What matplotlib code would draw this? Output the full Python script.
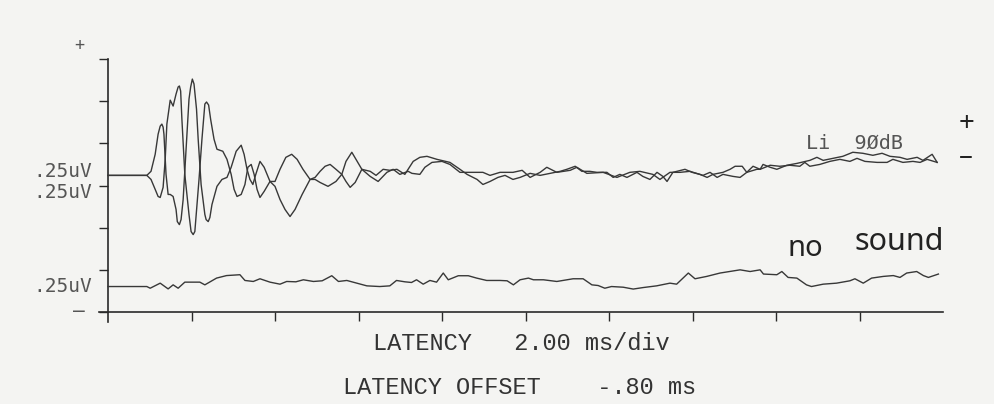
import numpy as np
import matplotlib
matplotlib.use('Agg')
import matplotlib.pyplot as plt

# latency (ms) and amplitude (uV)
# upper pair of traces (two stimulus polarities), drawn around the same baseline
t_pos = [-0.80, 0.13, 0.23, 0.33, 0.40, 0.45, 0.49, 0.52, 0.54, 0.59, 0.64, 0.69, 0.76, 0.83, 0.86,
         0.91, 0.95, 1.00, 1.07, 1.14, 1.18, 1.22, 1.26, 1.32, 1.36, 1.43, 1.52, 1.55, 1.60, 1.64,
         1.69, 1.81, 1.93, 2.05, 2.15, 2.27, 2.39, 2.46,
         2.53, 2.60, 2.67, 2.74, 2.84, 2.94, 3.08, 3.20, 3.32, 3.44, 3.56, 3.68, 3.85, 4.04, 4.16,
         4.28, 4.40, 4.52, 4.66, 4.80, 4.90, 5.00, 5.12, 5.28, 5.48, 5.62, 5.79, 5.95, 6.12, 6.31,
         6.51, 6.67, 6.84, 7.08, 7.39, 7.63, 7.80, 8.04, 8.18, 8.35, 8.54, 8.71, 8.90, 9.07, 9.31,
         9.55, 10.03, 10.19, 10.39, 10.55, 10.74, 10.91, 11.15, 11.30, 11.46, 11.63, 11.87, 12.01,
         12.18, 12.35, 12.49, 12.59, 12.73, 13.02, 13.19, 13.38, 13.55, 13.69, 13.93, 14.10, 14.22,
         14.39, 14.50, 14.65, 14.82, 14.89, 15.06, 15.22, 15.46, 15.70, 16.01, 16.18, 16.33, 16.56,
         16.80, 17.04, 17.28, 17.52, 17.74, 17.93, 18.17, 18.34, 18.58, 18.72, 18.94, 19.06]
amp_pos = [0, 0, 0.024, 0.125, 0.244, 0.292, 0.304, 0.286, 0.244, 0.006, -0.113, -0.113, -0.125,
           -0.202, -0.274, -0.292, -0.262, -0.143, 0.155, 0.452, 0.524, 0.571, 0.542, 0.393,
           0.214, -0.054, -0.232, -0.262, -0.274, -0.250, -0.173, -0.065,
           -0.024, -0.012, 0.048, 0.143, 0.179, 0.125, 0.036, -0.024, -0.054, 0.006, 0.083, 0.048,
           -0.036, -0.065, -0.143, -0.202, -0.244, -0.202, -0.113, -0.024, -0.012, 0.024, 0.054,
           0.065, 0.036, 0.006, -0.036, -0.071, -0.042, 0.036, 0.024, 0, 0.036, 0.030, 0.036, 0.006,
           0.083, 0.107, 0.113, 0.095, 0.077, 0.036, 0.006, -0.024, -0.054, -0.036, -0.012, 0,
           -0.024, -0.012, 0.012, 0, 0.024, 0.036, 0.054, 0.024, 0.024, 0.018, 0.018, -0.012, 0.006,
           -0.012, 0.018, -0.006, -0.024, 0.018, -0.006, -0.036, 0.018, 0.036, 0.018, 0.006, -0.012,
           0.006, 0.018, 0.036, 0.054, 0.054, 0.018, 0.054, 0.036, 0.065, 0.048, 0.036, 0.060,
           0.071, 0.089, 0.107, 0.089, 0.101, 0.113, 0.137, 0.131, 0.119, 0.131, 0.113, 0.107,
           0.095, 0.107, 0.089, 0.125, 0.077]

t_neg = [-0.80, 0.13, 0.23, 0.33, 0.40, 0.45, 0.52, 0.57, 0.61, 0.69, 0.76, 0.83, 0.88, 0.91, 0.94,
         0.97, 1.04, 1.14, 1.19, 1.24, 1.28, 1.38, 1.45, 1.52, 1.56, 1.61, 1.66, 1.74, 1.81, 1.95,
         2.05, 2.15, 2.22, 2.29, 2.39,
         2.48, 2.55, 2.63, 2.70, 2.77, 2.84, 2.94, 3.08, 3.20, 3.32, 3.46, 3.60, 3.73, 3.87, 4.04,
         4.16, 4.28, 4.47, 4.66, 4.80, 4.90, 5.04, 5.14, 5.28, 5.48, 5.67, 5.88, 6.03, 6.19, 6.39,
         6.48, 6.67, 6.79, 6.96, 7.20, 7.39, 7.63, 7.80, 8.18, 8.35, 8.59, 8.90, 9.12, 9.31, 9.55,
         9.71, 9.95, 10.27, 10.43, 10.67, 11.06, 11.39, 11.70, 11.94, 12.25, 12.42, 12.66, 12.90,
         13.14, 13.45, 13.62, 13.79, 13.93, 14.17, 14.34, 14.50, 14.74, 14.82, 15.06, 15.29, 15.53,
         15.77, 15.89, 16.01, 16.25, 16.49, 16.73, 16.97, 17.14, 17.33, 17.62, 17.86, 18.00, 18.24,
         18.48, 18.65, 18.82, 19.06]
amp_neg = [0, 0, -0.024, -0.083, -0.125, -0.131, -0.071, 0.095, 0.304, 0.446, 0.411, 0.482, 0.524,
           0.530, 0.500, 0.333, 0.006, -0.232, -0.333, -0.351, -0.333, -0.024, 0.214, 0.423, 0.435,
           0.417, 0.330, 0.214, 0.155, 0.143,
           0.095, 0.006, -0.083, -0.125, -0.113, -0.054, 0.048, 0.065, 0.006, -0.083, -0.131,
           -0.095, -0.036, -0.036, 0.036, 0.107, 0.125, 0.095, 0.036, -0.024, -0.024, -0.042,
           -0.065, -0.036, 0.006, 0.083, 0.137, 0.095, 0.036, -0.006, -0.036, 0.018, 0.036, 0.006,
           0.024, 0.012, 0.006, 0.048, 0.077, 0.083, 0.065, 0.018, 0.018, 0.018, 0, 0.018, 0.018,
           0.030, -0.012, 0.018, 0.048, 0.018, 0.030, 0.048, 0.012, 0.018, -0.012, 0.018, 0.024,
           0.006, -0.024, 0.018, 0.018, 0.024, 0, 0.018, -0.012, 0.006, -0.006, -0.012, 0.018,
           0.036, 0.036, 0.060, 0.054, 0.060, 0.054, 0.077, 0.054, 0.065, 0.083, 0.095, 0.083,
           0.101, 0.083, 0.077, 0.077, 0.095, 0.077, 0.083, 0.077, 0.095, 0.077]

# bottom trace, recorded with no sound
t_quiet = [-0.80, 0.13, 0.21, 0.45, 0.64, 0.76, 0.88, 1.04, 1.40, 1.52, 1.80, 2.04, 2.36, 2.48,
           2.68, 2.84, 3.08, 3.32, 3.48, 3.70, 3.88, 4.12, 4.33, 4.56, 4.72, 4.92, 5.16, 5.40,
           5.71, 5.95, 6.11, 6.31, 6.47, 6.59, 6.75, 6.91, 7.07, 7.23, 7.35, 7.59, 7.83, 8.03,
           8.27, 8.59, 8.76, 8.91, 9.07, 9.27, 9.39, 9.63, 9.95, 10.34, 10.58, 10.79, 10.94, 11.10,
           11.26, 11.54, 11.78, 12.02, 12.34, 12.66, 12.82, 13.10, 13.26, 13.54, 13.86, 14.34,
           14.58, 14.82, 14.90, 15.22, 15.34, 15.49, 15.70, 15.93, 16.05, 16.33, 16.65, 16.97,
           17.09, 17.29, 17.49, 17.77, 18.01, 18.17, 18.33, 18.57, 18.73, 18.85, 19.09]
amp_quiet = [0, 0, -0.010, 0.020, -0.014, 0.010, -0.010, 0.026, 0.026, 0.010, 0.050, 0.065, 0.070,
             0.036, 0.030, 0.046, 0.026, 0.014, 0.030, 0.028, 0.040, 0.030, 0.034, 0.064, 0.030,
             0.036, 0.020, 0.004, 0, 0.004, 0.036, 0.028, 0.024, 0.040, 0.014, 0.036, 0.026, 0.080,
             0.040, 0.064, 0.064, 0.050, 0.036, 0.036, 0.034, 0.010, 0.040, 0.050, 0.040, 0.040,
             0.030, 0.046, 0.046, 0.010, 0.006, -0.010, 0, -0.004, -0.015, -0.006, 0.004, 0.020,
             0.014, 0.080, 0.046, 0.060, 0.080, 0.099, 0.089, 0.099, 0.074, 0.070, 0.089, 0.054,
             0.050, 0.010, 0, 0.014, 0.020, 0.034, 0.046, 0.020, 0.050, 0.060, 0.065, 0.054, 0.080,
             0.089, 0.065, 0.054, 0.074]

OFFSET_STIM = 0.81     # uV above the time axis
OFFSET_QUIET = 0.151
X_MIN, X_MAX = -0.80, 19.20   # 2.00 ms/div, offset -.80 ms
Y_MIN, Y_MAX = 0.0, 1.5       # .25 uV/div

W, H = 994, 404
INK = '#383838'
PAPER = '#f4f4f2'


def fpos(x, y):
    # pixel position on the sheet -> figure fraction
    return x / W, 1 - y / H


def main():
    fig = plt.figure(figsize=(W / 100, H / 100), dpi=100, facecolor=PAPER)
    ax = fig.add_axes([108 / W, (H - 312) / H, (943 - 108) / W, (312 - 59) / H])
    ax.set_facecolor(PAPER)
    ax.set_xlim(X_MIN, X_MAX)
    ax.set_ylim(Y_MIN, Y_MAX)
    for s in ax.spines.values():
        s.set_visible(False)

    # axis frame as the plotter drew it
    ax.plot([X_MIN, X_MIN], [-0.06, Y_MAX], color='#2a2a2a', lw=1.2, clip_on=False)
    ax.plot([X_MIN - 0.22, X_MAX], [0, 0], color='#2a2a2a', lw=1.2, clip_on=False)
    ax.set_yticks(np.arange(Y_MIN, Y_MAX + 0.01, 0.25))
    ax.set_xticks(X_MIN + 2 * np.arange(1, 10))
    ax.tick_params(axis='both', direction='out', length=6.5, width=1.0, color='#2a2a2a',
                   labelleft=False, labelbottom=False)

    ax.plot(t_pos, np.array(amp_pos) + OFFSET_STIM, color=INK, lw=1.0, clip_on=False)
    ax.plot(t_neg, np.array(amp_neg) + OFFSET_STIM, color=INK, lw=1.0, clip_on=False)
    ax.plot(t_quiet, np.array(amp_quiet) + OFFSET_QUIET, color=INK, lw=1.0, clip_on=False)

    mono = 'DejaVu Sans Mono'
    lab = dict(family=mono, fontsize=14, color='#555555', va='center')
    fig.text(*fpos(92, 172), '.25uV', ha='right', **lab)
    fig.text(*fpos(92, 193), '.25uV', ha='right', **lab)
    fig.text(*fpos(92, 287), '.25uV', ha='right', **lab)
    fig.text(*fpos(79, 45), '+', ha='center', family=mono, fontsize=12, color='#555555',
             va='center')
    fig.text(*fpos(79, 311), '\u2013', ha='center', **lab)
    fig.text(*fpos(806, 143), 'Li  9\u00d8dB', ha='left', family=mono, fontsize=14.5,
             color='#555555', va='center')

    hand = dict(family='Noto Sans', color='#222222', va='center')
    fig.text(*fpos(967, 124), '+', ha='center', fontsize=20, **hand)
    fig.text(*fpos(966, 157), '\u2013', ha='center', fontsize=20, **hand)
    fig.text(*fpos(788, 249), 'no', ha='left', fontsize=21, **hand)
    fig.text(*fpos(855, 242), 'sound', ha='left', fontsize=22, **hand)

    courier = dict(family='Liberation Mono', fontsize=17, color='#333333', va='center', ha='left')
    fig.text(*fpos(373, 343), 'LATENCY   2.00 ms/div', **courier)
    fig.text(*fpos(343, 388), 'LATENCY OFFSET    -.80 ms', **courier)

    fig.savefig('out.png', dpi=100, facecolor=PAPER)
    print('out.png save done.')


if __name__ == '__main__':
    main()
